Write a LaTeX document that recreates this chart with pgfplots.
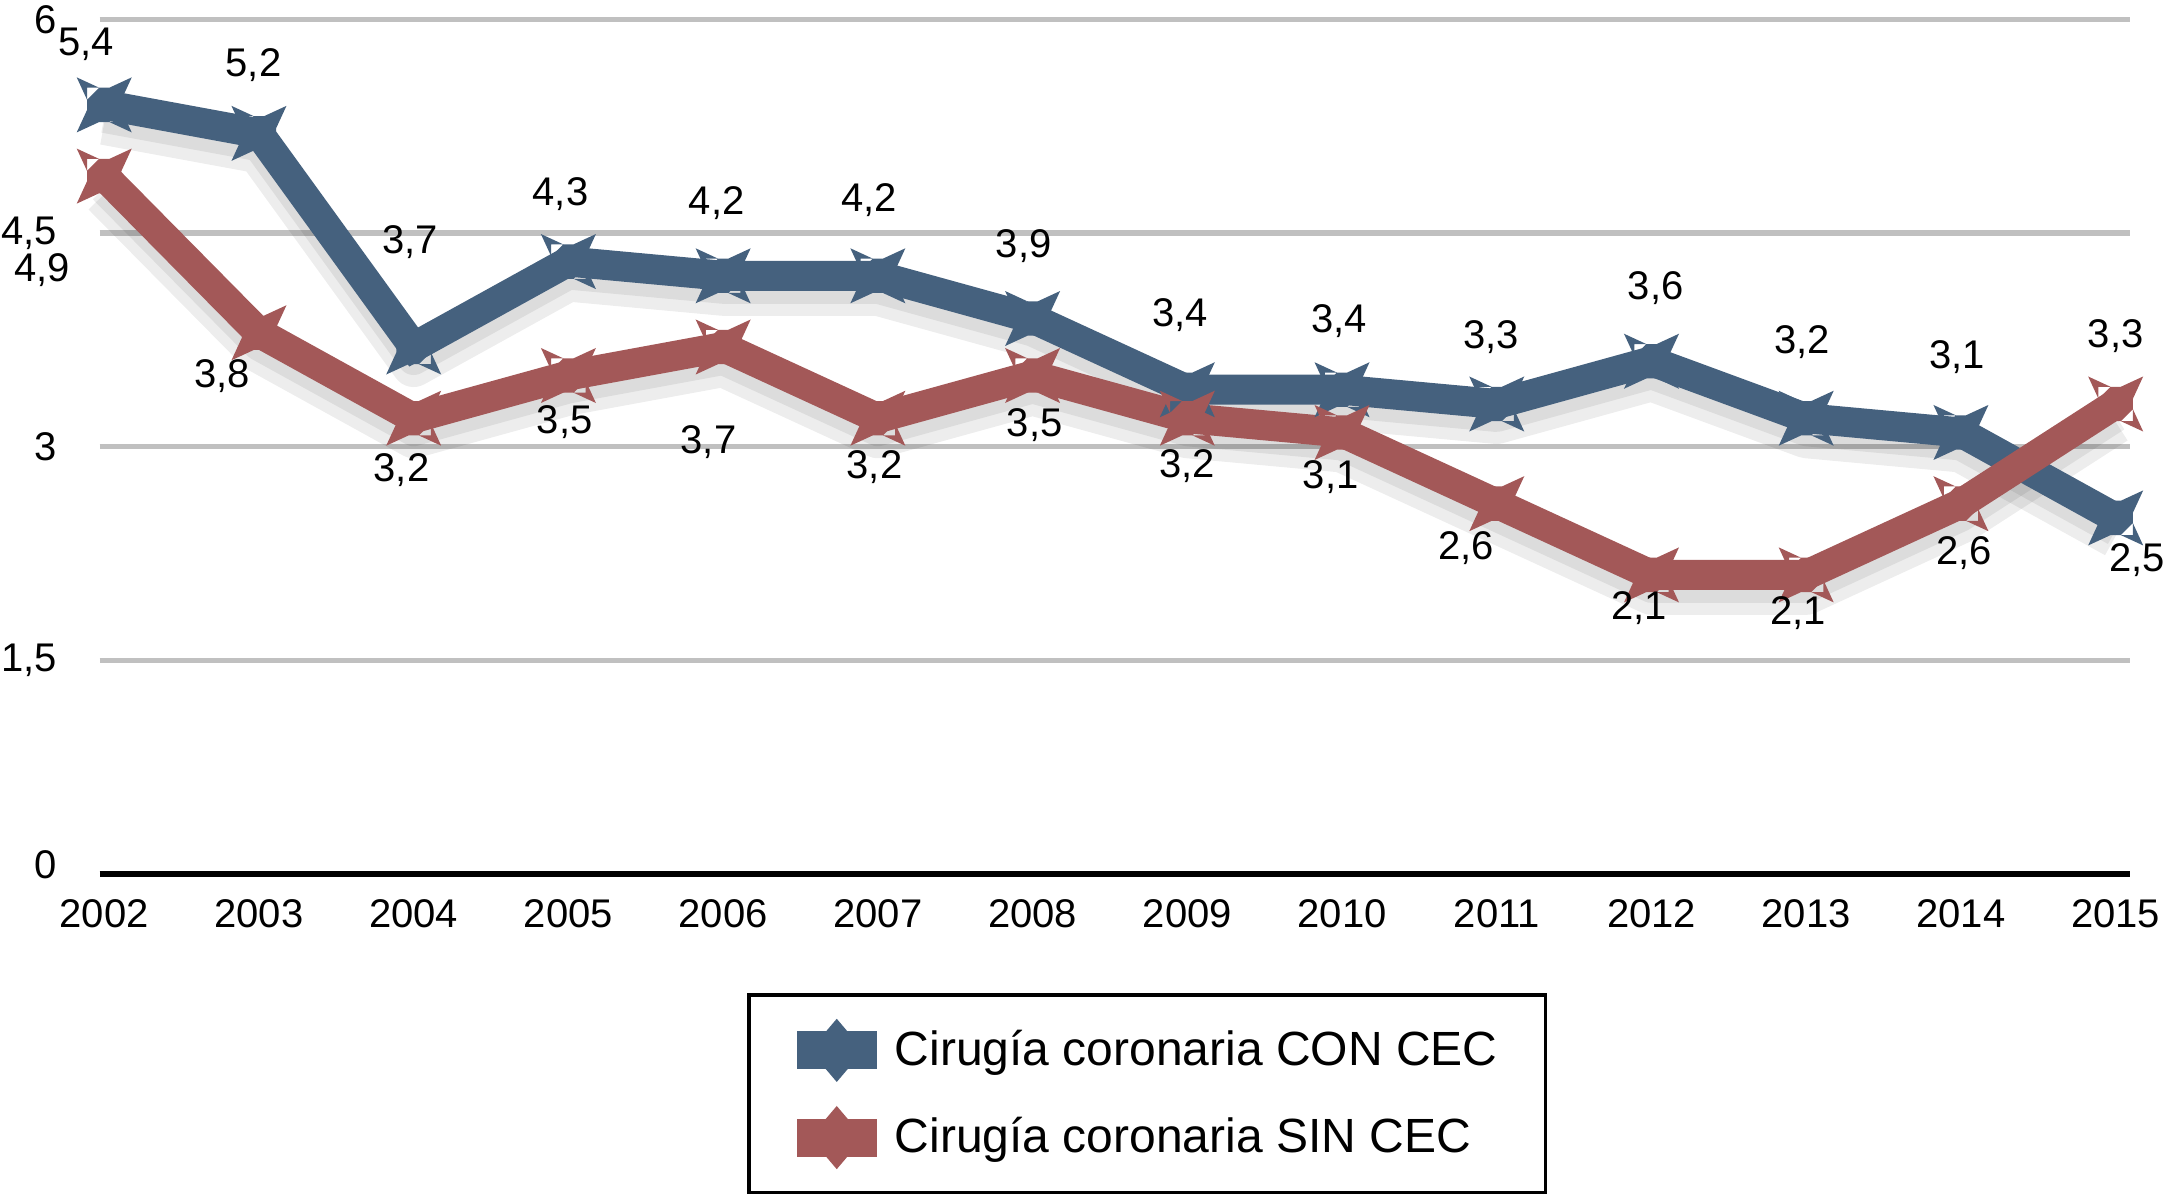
\documentclass[border=0pt]{standalone}
\usepackage{pgfplots}
\pgfplotsset{compat=1.18}
\usepackage{pgfplotstable}
\usepackage{fontspec}
\setmainfont{Liberation Sans}

\definecolor{conblue}{RGB}{69,97,126}
\definecolor{sinred}{RGB}{163,88,88}
\definecolor{gridgray}{RGB}{192,192,192}

% square with four small barbs at the corners
\pgfdeclareplotmark{cec}{%
  \pgfpathrectangle{\pgfpoint{-\pgfplotmarksize}{-\pgfplotmarksize}}{\pgfpoint{2\pgfplotmarksize}{2\pgfplotmarksize}}%
  \pgfpathmoveto{\pgfpoint{\pgfplotmarksize}{0.3\pgfplotmarksize}}%
  \pgfpathlineto{\pgfpoint{1.6\pgfplotmarksize}{1.6\pgfplotmarksize}}%
  \pgfpathlineto{\pgfpoint{0.3\pgfplotmarksize}{\pgfplotmarksize}}\pgfpathclose
  \pgfpathmoveto{\pgfpoint{-\pgfplotmarksize}{0.3\pgfplotmarksize}}%
  \pgfpathlineto{\pgfpoint{-1.6\pgfplotmarksize}{1.6\pgfplotmarksize}}%
  \pgfpathlineto{\pgfpoint{-0.3\pgfplotmarksize}{\pgfplotmarksize}}\pgfpathclose
  \pgfpathmoveto{\pgfpoint{\pgfplotmarksize}{-0.3\pgfplotmarksize}}%
  \pgfpathlineto{\pgfpoint{1.6\pgfplotmarksize}{-1.6\pgfplotmarksize}}%
  \pgfpathlineto{\pgfpoint{0.3\pgfplotmarksize}{-\pgfplotmarksize}}\pgfpathclose
  \pgfpathmoveto{\pgfpoint{-\pgfplotmarksize}{-0.3\pgfplotmarksize}}%
  \pgfpathlineto{\pgfpoint{-1.6\pgfplotmarksize}{-1.6\pgfplotmarksize}}%
  \pgfpathlineto{\pgfpoint{-0.3\pgfplotmarksize}{-\pgfplotmarksize}}\pgfpathclose
  \pgfusepathqfill}

\pgfplotstableread{
year val
2002 5.4
2003 5.2
2004 3.7
2005 4.3
2006 4.2
2007 4.2
2008 3.9
2009 3.4
2010 3.4
2011 3.3
2012 3.6
2013 3.2
2014 3.1
2015 2.5
}\con

\pgfplotstableread{
year val
2002 4.9
2003 3.8
2004 3.2
2005 3.5
2006 3.7
2007 3.2
2008 3.5
2009 3.2
2010 3.1
2011 2.6
2012 2.1
2013 2.1
2014 2.6
2015 3.3
}\sin

% where the value labels sit
\pgfplotstableread{
x y lab
2001.884 5.825 5,4
2002.965 5.680 5,2
2003.975 4.437 3,7
2004.949 4.777 4,3
2005.959 4.709 4,2
2006.942 4.728 4,2
2007.943 4.408 3,9
2008.953 3.922 3,4
2009.980 3.883 3,4
2010.963 3.767 3,3
2012.027 4.117 3,6
2012.974 3.738 3,2
2013.975 3.631 3,1
2015.137 2.204 2,5
}\conlab

\pgfplotstableread{
x y lab
2001.598 4.243 4,9
2002.760 3.495 3,8
2003.921 2.835 3,2
2004.976 3.175 3,5
2005.905 3.029 3,7
2006.978 2.854 3,2
2008.014 3.155 3,5
2009.000 2.864 3,2
2009.927 2.786 3,1
2010.800 2.291 2,6
2011.920 1.864 2,1
2012.947 1.835 2,1
2014.020 2.252 2,6
2015.000 3.777 3,3
}\sinlab

\begin{document}
\begin{tikzpicture}
\begin{axis}[
  at={(24.9pt,79.75pt)}, anchor=south west,
  scale only axis, width=507.5pt, height=213.65pt,
  xmin=2001.97, xmax=2015.09, ymin=0, ymax=6,
  clip=false,
  axis line style={draw=none},
  major tick length=0pt,
  ymajorgrids,
  grid style={gridgray, line width=1.3pt},
  ytick={1.5,3,4.5,6},
  yticklabels={{1,5},3,{4,5},6},
  extra y ticks={0}, extra y tick labels={0},
  extra y tick style={grid style={black, line width=1.4pt},
    yticklabel style={yshift=2.4pt}},
  xtick={2002,2003,2004,2005,2006,2007,2008,2009,2010,2011,2012,2013,2014,2015},
  xticklabels={2002,2003,2004,2005,2006,2007,2008,2009,2010,2011,2012,2013,2014,2015},
  /pgf/number format/assume math mode=true,
  ticklabel style={font=\fontsize{10}{12}\selectfont, inner sep=0pt},
  yticklabel style={anchor=east, xshift=-10.4pt},
  xticklabel style={anchor=north, yshift=-6.2pt},
  legend style={at={(0.3189,-0.1392)}, anchor=north west,
    draw=black, line width=0.9pt,
    font=\fontsize{12}{14}\selectfont,
    inner xsep=12pt, inner ysep=6pt, row sep=6pt,
    nodes={inner sep=0pt}},
  legend cell align=left,
  /tikz/every odd column/.append style={column sep=4.5pt},
  legend image code/.code={%
    \fill[draw=none] (0pt,-4.75pt) rectangle (20pt,4.75pt);
    \fill[draw=none] (10pt,-7.9pt) -- (16.7pt,0pt) -- (10pt,7.9pt) -- (3.3pt,0pt) -- cycle;},
]
% soft shadows under the lines
\addplot[forget plot, black, opacity=0.07, line width=11pt, line join=round, yshift=-4.5pt] table[x=year,y=val] {\con};
\addplot[forget plot, black, opacity=0.07, line width=11pt, line join=round, yshift=-4.5pt] table[x=year,y=val] {\sin};
\addplot[forget plot, black, opacity=0.07, line width=8pt, line join=round, yshift=-3pt] table[x=year,y=val] {\con};
\addplot[forget plot, black, opacity=0.07, line width=8pt, line join=round, yshift=-3pt] table[x=year,y=val] {\sin};

\addplot[conblue, line width=7.5pt, mark=cec, mark size=4.3pt] table[x=year,y=val] {\con};
\addplot[sinred, line width=7.5pt, mark=cec, mark size=4.3pt] table[x=year,y=val] {\sin};

\addplot[forget plot, draw=none, nodes near coords, point meta=explicit symbolic,
  nodes near coords style={anchor=center, inner sep=0pt, font=\fontsize{10}{12}\selectfont}]
  table[x=x,y=y,meta=lab] {\conlab};
\addplot[forget plot, draw=none, nodes near coords, point meta=explicit symbolic,
  nodes near coords style={anchor=center, inner sep=0pt, font=\fontsize{10}{12}\selectfont}]
  table[x=x,y=y,meta=lab] {\sinlab};

\legend{Cirugía coronaria CON CEC, Cirugía coronaria SIN CEC}
\end{axis}
\pgfresetboundingbox
\useasboundingbox (0,0) rectangle (541.75pt,298.25pt);
\end{tikzpicture}
\end{document}
